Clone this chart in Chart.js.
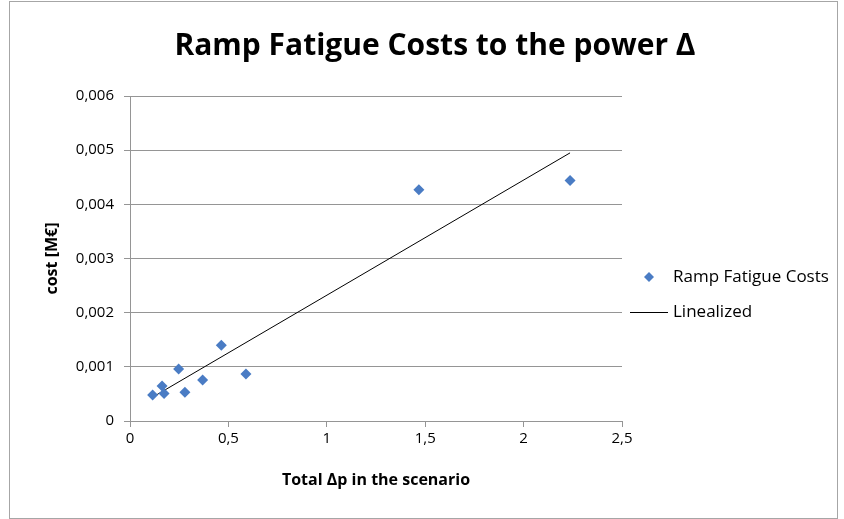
<!DOCTYPE html>
<html>
<head>
<meta charset="utf-8">
<script src="https://cdn.jsdelivr.net/npm/chart.js@4/dist/chart.umd.min.js"></script>
<style>
  body { margin: 0; background: #fff; }
  #frame { position: absolute; left: 9px; top: 1px; width: 827px; height: 516px; border: 1px solid #a6a6a6; }
  #wrap { position: absolute; left: 0; top: 0; width: 844px; height: 519px; }
</style>
</head>
<body>
<div id="frame"></div>
<div id="wrap"><canvas id="chart" width="844" height="519"></canvas></div>
<script>
// values
const deltaP = [0.115, 0.163, 0.173, 0.247, 0.279, 0.369, 0.464, 0.589, 1.468, 2.236];
const costs = [0.00048, 0.000645, 0.00051, 0.00096, 0.00053, 0.000755, 0.0014, 0.000866, 0.00427, 0.00444];
const lineX = [0.115, 2.236];
const lineY = [0.00044, 0.00495];
const xTicks = [0, 0.5, 1, 1.5, 2, 2.5];
const yTicks = [0, 0.001, 0.002, 0.003, 0.004, 0.005, 0.006];

const font = "'Open Sans', sans-serif";
const gridGray = '#959595';
const blue = '#4a7cc4';

function commaNum(v) {
    const r = Math.round(v * 1000) / 1000;
    return String(r).replace('.', ',');
}

// Excel-style legend to the right of the plot; the built-in one gets
// capped in width and clips the longer label
const sideLegend = {
    id: 'sideLegend',
    afterDraw(chart) {
        const { ctx, chartArea } = chart;
        const x0 = chartArea.right + 8;
        let y = chartArea.top + 181;
        ctx.save();
        ctx.font = '17px ' + font;
        ctx.textBaseline = 'middle';
        ctx.fillStyle = '#000';
        chart.data.datasets.forEach(ds => {
            if (ds.type === 'line') {
                ctx.strokeStyle = ds.borderColor;
                ctx.lineWidth = 1;
                ctx.beginPath();
                ctx.moveTo(x0, y + 0.5);
                ctx.lineTo(x0 + 38, y + 0.5);
                ctx.stroke();
            } else {
                const cx = x0 + 19;
                ctx.fillStyle = ds.backgroundColor;
                ctx.beginPath();
                ctx.moveTo(cx, y - 5); ctx.lineTo(cx + 5, y);
                ctx.lineTo(cx, y + 5); ctx.lineTo(cx - 5, y);
                ctx.closePath();
                ctx.fill();
            }
            ctx.fillStyle = '#000';
            ctx.fillText(ds.label, x0 + 43, y);
            y += 35;
        });
        ctx.restore();
    },
};

new Chart(document.getElementById('chart'), {
    type: 'scatter',
    data: {
        datasets: [
            {
                label: 'Ramp Fatigue Costs',
                data: deltaP.map((x, i) => ({ x, y: costs[i] })),
                backgroundColor: blue,
                borderWidth: 0,
                pointStyle: 'rectRot',
                pointRadius: 5.5,
                order: 1,
            },
            {
                type: 'line',
                label: 'Linealized',
                data: lineX.map((x, i) => ({ x, y: lineY[i] })),
                borderColor: '#000',
                borderWidth: 1,
                pointRadius: 0,
                fill: false,
                order: 2,
            },
        ],
    },
    plugins: [sideLegend],
    options: {
        responsive: false,
        animation: false,
        layout: { padding: { left: 26, right: 0, top: 0, bottom: 0 } },
        plugins: {
            tooltip: { enabled: false },
            legend: { display: false },
            title: {
                display: true,
                text: 'Ramp Fatigue Costs to the power Δ',
                color: '#000',
                font: { family: font, size: 30, weight: 'bold' },
                padding: { top: 28, bottom: 32 },
            },
        },
        scales: {
            x: {
                type: 'linear',
                min: 0,
                max: 2.5,
                afterBuildTicks(scale) { scale.ticks = xTicks.map(v => ({ value: v })); },
                afterFit(scale) { scale.height = 98; },
                grid: { drawOnChartArea: false, drawTicks: true, tickLength: 6, color: gridGray },
                border: { color: gridGray },
                ticks: { color: '#000', padding: 3, font: { family: font, size: 15 }, callback: v => commaNum(v) },
                title: {
                    display: true,
                    text: 'Total Δp in the scenario',
                    color: '#000',
                    font: { family: font, size: 16, weight: 'bold' },
                    padding: { top: 0, bottom: 29.4 },
                },
            },
            y: {
                min: 0,
                max: 0.006,
                afterBuildTicks(scale) { scale.ticks = yTicks.map(v => ({ value: v })); },
                afterFit(scale) { scale.width = 104; },
                grid: { drawTicks: true, tickLength: 6, color: gridGray },
                border: { color: gridGray },
                ticks: { color: '#000', padding: 10, font: { family: font, size: 15 }, callback: v => commaNum(v) },
                title: {
                    display: true,
                    text: 'cost [M€]',
                    color: '#000',
                    font: { family: font, size: 16, weight: 'bold' },
                    padding: { top: 16.4, bottom: 0 },
                },
            },
            // empty axis that only reserves the room the legend sits in
            legendSpace: {
                type: 'linear',
                position: 'right',
                afterFit(scale) { scale.width = 222; },
                grid: { display: false },
                border: { display: false },
                ticks: { display: false },
            },
        },
    },
});
</script>
</body>
</html>
